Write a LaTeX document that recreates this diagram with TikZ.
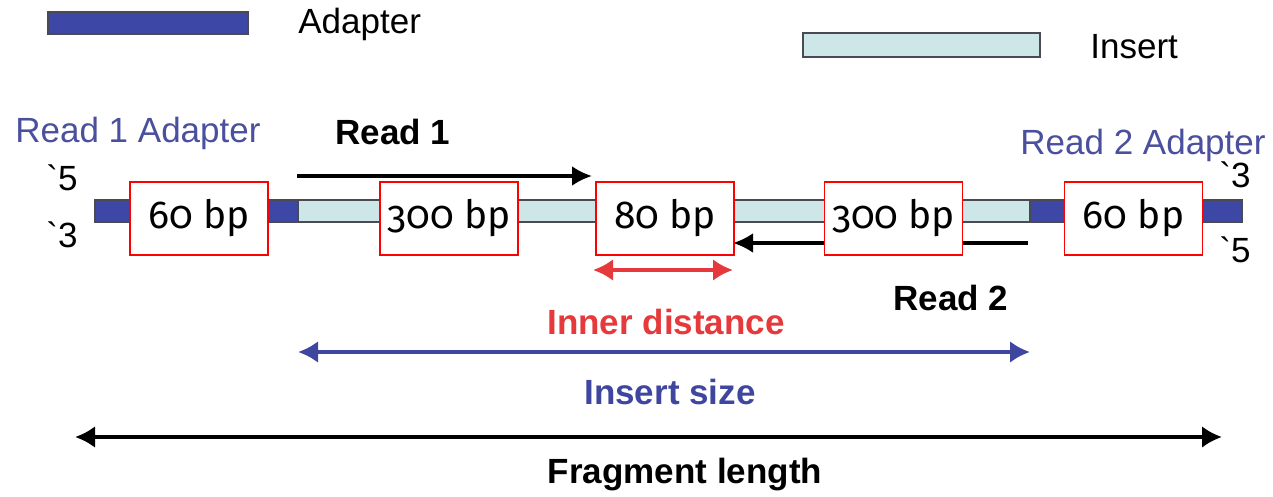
\documentclass[tikz,border=0pt]{standalone}
\usepackage{fontspec}
\setmainfont{Liberation Sans}
\newfontfamily\boxfont[Numbers=OldStyle]{Fira Sans}
\usetikzlibrary{arrows.meta}
\definecolor{adapterblue}{HTML}{3C47A6}
\definecolor{insertcyan}{HTML}{CDE7E9}
\definecolor{labelblue}{HTML}{4A4F9E}
\definecolor{sizeblue}{HTML}{3F46A0}
\definecolor{innerred}{HTML}{E5393B}
\definecolor{barline}{HTML}{4A4A55}
\begin{document}
\begin{tikzpicture}[x=0.5pt,y=-0.5pt,
  txt/.style={inner sep=0pt,font=\fontsize{17.5}{20}\selectfont},
  btxt/.style={txt,font=\fontsize{17.5}{20}\selectfont\bfseries},
  adapterbar/.style={draw=barline,line width=1pt,fill=adapterblue,inner sep=0pt},
  insertbar/.style={draw=barline,line width=1pt,fill=insertcyan,inner sep=0pt},
  bpbox/.style={draw=red,line width=0.9pt,fill=white,inner sep=0pt,
    minimum width=69pt,minimum height=36.5pt,font=\boxfont\fontsize{19.5}{22}\selectfont},
  readarrow/.style={line width=1.8pt,-{Latex[length=10pt,width=10pt]}},
  span/.style={line width=2pt,{Latex[length=10pt,width=11pt]}-{Latex[length=10pt,width=11pt]}}
]
\useasboundingbox (0,0) rectangle (1273,497);

% legend
\node[adapterbar,minimum width=100pt,minimum height=11pt] (legA) at (148,23) {};
\node[txt,anchor=west] (legAt) at (298,24) {Adapter};
\node[insertbar,minimum width=118.5pt,minimum height=12pt] (legI) at (921.5,45) {};
\node[txt,anchor=west] (legIt) at (1090,47) {Insert};

% labels above the strand
\node[txt,anchor=west,text=labelblue] (r1a) at (15,133) {Read 1 Adapter};
\node[btxt,anchor=west] (r1) at (335,132) {Read 1};
\node[txt,anchor=west,text=labelblue] (r2a) at (1020,145) {Read 2 Adapter};
\node[txt] (p5l) at (62,178) {\textasciigrave 5};
\node[txt] (p3l) at (62,235) {\textasciigrave 3};
\node[txt] (p3r) at (1235,175) {\textasciigrave 3};
\node[txt] (p5r) at (1235,250) {\textasciigrave 5};

% the strand: adapter - insert - adapter
\node[adapterbar,minimum width=101.5pt,minimum height=11pt] (adL) at (196.5,211) {};
\node[insertbar,minimum width=366pt,minimum height=11pt] (ins) at (664,211) {};
\node[adapterbar,minimum width=106pt,minimum height=11pt] (adR) at (1136,211) {};

% reads
\coordinate (r1s) at (297,176);
\coordinate (r1e) at (592,176);
\coordinate (r2s) at (1028,243);
\coordinate (r2e) at (733,243);
\draw[readarrow] (r1s) -- (r1e);
\draw[readarrow] (r2s) -- (r2e);

% segment lengths
\node[bpbox] (b1) at (199,218.5) {60 bp};
\node[bpbox] (b2) at (449,218.5) {300 bp};
\node[bpbox] (b3) at (665,218.5) {80 bp};
\node[bpbox] (b4) at (893.5,218.5) {300 bp};
\node[bpbox] (b5) at (1133.5,218.5) {60 bp};

\node[btxt,anchor=west] (r2) at (893,298) {Read 2};

% spans
\coordinate (inA) at (593,270);
\coordinate (inB) at (733,270);
\draw[span,color=innerred] (inA) -- (inB);
\node[btxt,text=innerred] (inner) at (666,322) {Inner distance};

\coordinate (isA) at (298,352);
\coordinate (isB) at (1030,352);
\draw[span,color=sizeblue] (isA) -- (isB);
\node[btxt,text=sizeblue] (isize) at (670,392) {Insert size};

\coordinate (flA) at (75,437);
\coordinate (flB) at (1222,437);
\draw[span,color=black] (flA) -- (flB);
\node[btxt] (flen) at (685,475) {Fragment length};
\end{tikzpicture}
\end{document}
